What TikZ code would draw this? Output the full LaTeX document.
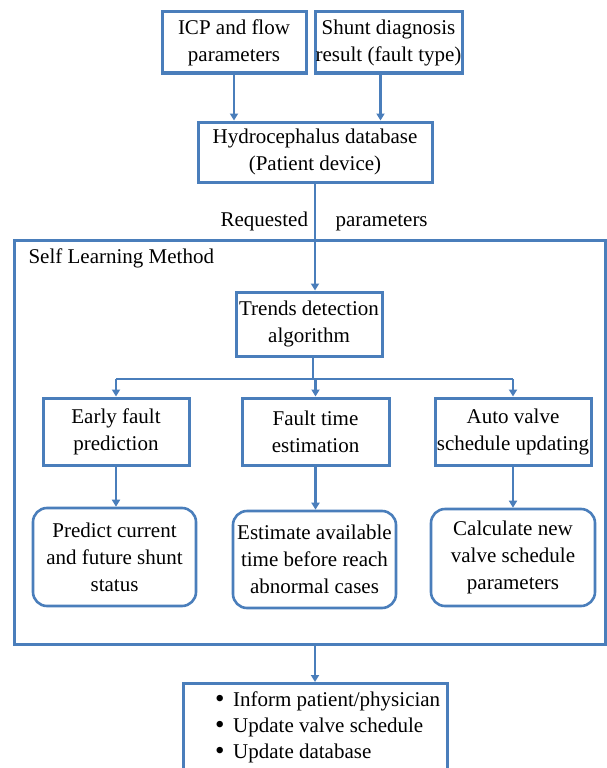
\documentclass[tikz,border=0pt]{standalone}
\usepackage{fontspec}
\setmainfont{Liberation Serif}
\usetikzlibrary{arrows.meta}
\definecolor{lineblue}{RGB}{74,126,187}

\begin{document}
\begin{tikzpicture}[x=1pt, y=-1pt,
    font=\fontsize{21}{27}\selectfont,
    >={Triangle[length=7pt,width=8pt]},
    box/.style={draw=lineblue, line width=3pt, inner sep=0pt, align=center},
    rbox/.style={box, line width=2.6pt, rounded corners=14pt},
    link/.style={lineblue, line width=2.6pt}]
    \useasboundingbox (0,0) rectangle (607,768);
    \clip (0,0) rectangle (607,768);

    % Inputs to the database
    \node [box, minimum width=144pt, minimum height=61pt] (icp) at (234,42.5) {ICP and flow\\parameters};
    \node [box, minimum width=147pt, minimum height=61pt] (shunt) at (388.5,42.5) {Shunt diagnosis\\result (fault type)};
    \node [box, minimum width=234pt, minimum height=60pt] (hydro) at (315,152) {Hydrocephalus database\\(Patient device)};
    \draw [link, ->] (icp.south) -- (icp.south |- hydro.north);
    \draw [link, ->] ([xshift=-8pt]shunt.south) -- ([xshift=-8pt]shunt.south |- hydro.north);

    \node [anchor=base west] (req) at (217,226) {Requested};
    \node [anchor=base west] (par) at (332,226) {parameters};

    % Self learning frame
    \node [draw=lineblue, line width=3pt, minimum width=591pt, minimum height=404pt, inner sep=0pt] (slm) at (309.5,442) {};
    \node [anchor=base west] (slmlabel) at (25,263) {Self Learning Method};

        % Trends detection
        \node [box, minimum width=146pt, minimum height=64pt] (trends) at (309,324) {Trends detection\\algorithm};
        \draw [link, ->] (hydro.south) -- (hydro.south |- trends.north);
        \coordinate (split) at (313,379);

        % Three branches
        \node [box, minimum width=146pt, minimum height=67pt] (early) at (116,431.5) {Early fault\\prediction};
        \node [box, minimum width=147pt, minimum height=67pt] (ftime) at (315.5,431.5) {Fault time\\estimation};
        \node [box, minimum width=156pt, minimum height=67pt] (auto) at (513,431.5) {Auto valve\\schedule updating};

        \node [rbox, minimum width=163pt, minimum height=98pt] (pred) at (114.5,557) {Predict current\\and future shunt\\status};
        \node [rbox, minimum width=163pt, minimum height=97pt] (est) at (314.5,559.5) {Estimate available\\time before reach\\abnormal cases};
        \node [rbox, minimum width=164pt, minimum height=97pt] (calc) at (513,557.5) {Calculate new\\valve schedule\\parameters};

        \draw [link] (trends.south -| split) -- (split);
        \draw [link] (early.north |- split) -- (auto.north |- split);
        \foreach \a/\b in {early/pred, ftime/est, auto/calc}
        {
            \draw [link, ->] (\a.north |- split) -- (\a.north);
            \draw [link, ->] (\a.south) -- (\a.south |- \b.north);
        }

    % Output
    \node [draw=lineblue, line width=3pt, minimum width=264pt, minimum height=120pt, anchor=north] (out) at (315,682) {};
    \draw [link, ->] (slm.south -| out.north) -- (out.north);
    \foreach \t [count=\i] in {Inform patient/physician, Update valve schedule, Update database}
    {
        \node [anchor=base west, inner sep=0pt] (out\i) at (215,680+26*\i) {\makebox[18pt][l]{\raisebox{-1pt}{\fontsize{27}{27}\selectfont\textbullet}}\t};
    }
\end{tikzpicture}
\end{document}
